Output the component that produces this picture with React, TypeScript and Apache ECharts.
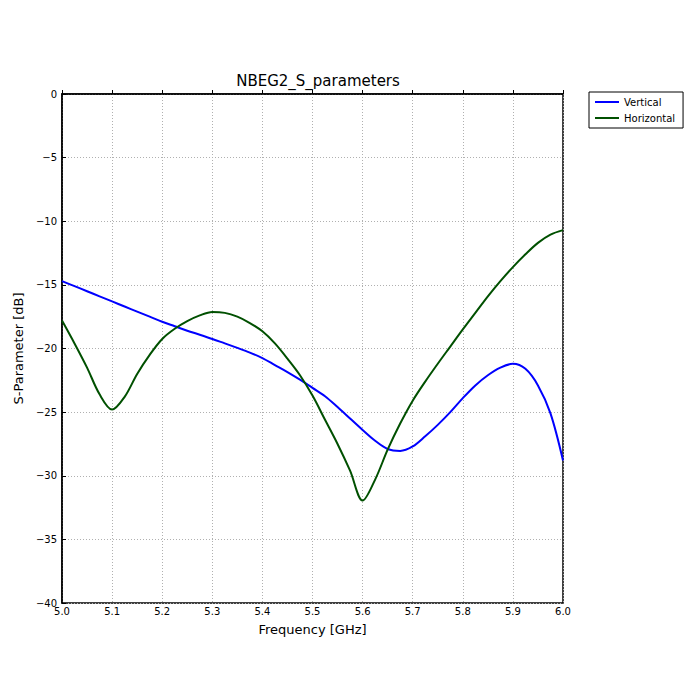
import React, { useEffect, useRef } from "react";
import * as echarts from "echarts";

const freq = [
  5.0, 5.025, 5.05, 5.075, 5.1, 5.125, 5.15, 5.175, 5.2, 5.225, 5.25, 5.275, 5.3, 5.325, 5.35, 5.375, 5.4, 5.425, 5.45, 5.475,
  5.5, 5.525, 5.55, 5.575, 5.6, 5.625, 5.65, 5.675, 5.7, 5.725, 5.75, 5.775, 5.8, 5.825, 5.85, 5.875, 5.9, 5.925, 5.95, 5.975, 6.0,
];
const vertical = [
  -14.7, -15.1, -15.5, -15.9, -16.3, -16.7, -17.1, -17.5, -17.9, -18.25, -18.6, -18.92, -19.25, -19.6, -19.95, -20.32, -20.75, -21.3, -21.85, -22.45,
  -23.1, -23.75, -24.6, -25.5, -26.4, -27.25, -27.9, -28.05, -27.7, -26.9, -26.0, -25.0, -23.9, -22.9, -22.1, -21.5, -21.2, -21.6, -22.9, -25.1, -28.8,
];
const horizontal = [
  -17.8, -19.6, -21.5, -23.6, -24.8, -23.8, -22.0, -20.5, -19.25, -18.45, -17.85, -17.4, -17.13, -17.2, -17.5, -18.0, -18.65, -19.6, -20.8, -22.1,
  -23.7, -25.6, -27.5, -29.6, -31.95, -30.3, -27.95, -25.9, -24.1, -22.6, -21.2, -19.85, -18.5, -17.2, -15.9, -14.7, -13.6, -12.6, -11.7, -11.05, -10.7,
];

const xTicks = ["5.0", "5.1", "5.2", "5.3", "5.4", "5.5", "5.6", "5.7", "5.8", "5.9", "6.0"];

const FONT = "DejaVu Sans";

export default function App() {
  const ref = useRef<HTMLDivElement>(null);
  useEffect(() => {
    const chart = echarts.init(ref.current!, null, { renderer: "svg" });
    const gridLine = { show: true, lineStyle: { color: "#b0b0b0", type: [1, 2] as any, width: 1 } };
    chart.setOption({
      animation: false,
      backgroundColor: "#fff",
      title: {
        text: "NBEG2_S_parameters",
        left: 313,
        top: 68,
        textAlign: "center",
        textStyle: { fontFamily: FONT, fontSize: 15, fontWeight: "normal", color: "#000" },
      },
      legend: {
        orient: "vertical",
        left: 589,
        top: 92,
        itemWidth: 24,
        itemHeight: 2,
        itemGap: 6,
        padding: [5, 8, 5, 6],
        borderColor: "#000",
        borderWidth: 1,
        borderRadius: 0,
        icon: "rect",
        textStyle: { fontFamily: FONT, fontSize: 10, color: "#000" },
        data: ["Vertical", "Horizontal"],
      },
      grid: {
        left: 62,
        right: 137,
        top: 94,
        bottom: 97,
        show: true,
        borderColor: "#000",
        borderWidth: 1.5,
      },
      xAxis: {
        type: "value",
        min: 5.0,
        max: 6.0,
        interval: 0.1,
        name: "Frequency [GHz]",
        nameLocation: "middle",
        nameGap: 20,
        nameTextStyle: { fontFamily: FONT, fontSize: 13, color: "#000" },
        axisLine: { show: true, lineStyle: { color: "#000", width: 1.5 } },
        axisTick: { show: true, inside: true, length: 4, lineStyle: { color: "#000" } },
        axisLabel: {
          fontFamily: FONT,
          fontSize: 10,
          color: "#000",
          margin: 3,
          formatter: (v: number) => xTicks[Math.round((v - 5.0) * 10)] ?? v.toFixed(1),
        },
        splitLine: gridLine,
      },
      yAxis: {
        type: "value",
        min: -40,
        max: 0,
        interval: 5,
        name: "S-Parameter [dB]",
        nameLocation: "middle",
        nameGap: 34,
        nameTextStyle: { fontFamily: FONT, fontSize: 13, color: "#000" },
        axisLine: { show: true, lineStyle: { color: "#000", width: 1.5 } },
        axisTick: { show: true, inside: true, length: 4, lineStyle: { color: "#000" } },
        axisLabel: {
          fontFamily: FONT,
          fontSize: 10,
          color: "#000",
          margin: 5,
          formatter: (v: number) => String(v).replace("-", "\u2212"),
        },
        splitLine: gridLine,
      },
      series: [
        {
          name: "Vertical",
          type: "line",
          smooth: 0.33,
          showSymbol: false,
          symbol: "none",
          lineStyle: { color: "#0000ff", width: 2 },
          itemStyle: { color: "#0000ff" },
          data: freq.map((f, i) => [f, vertical[i]]),
        },
        {
          name: "Horizontal",
          type: "line",
          smooth: 0.33,
          showSymbol: false,
          symbol: "none",
          lineStyle: { color: "#005000", width: 2 },
          itemStyle: { color: "#005000" },
          data: freq.map((f, i) => [f, horizontal[i]]),
        },
      ],
    });
    return () => chart.dispose();
  }, []);
  return <div ref={ref} style={{ width: 700, height: 700, position: "absolute", left: 0, top: 0 }} />;
}
